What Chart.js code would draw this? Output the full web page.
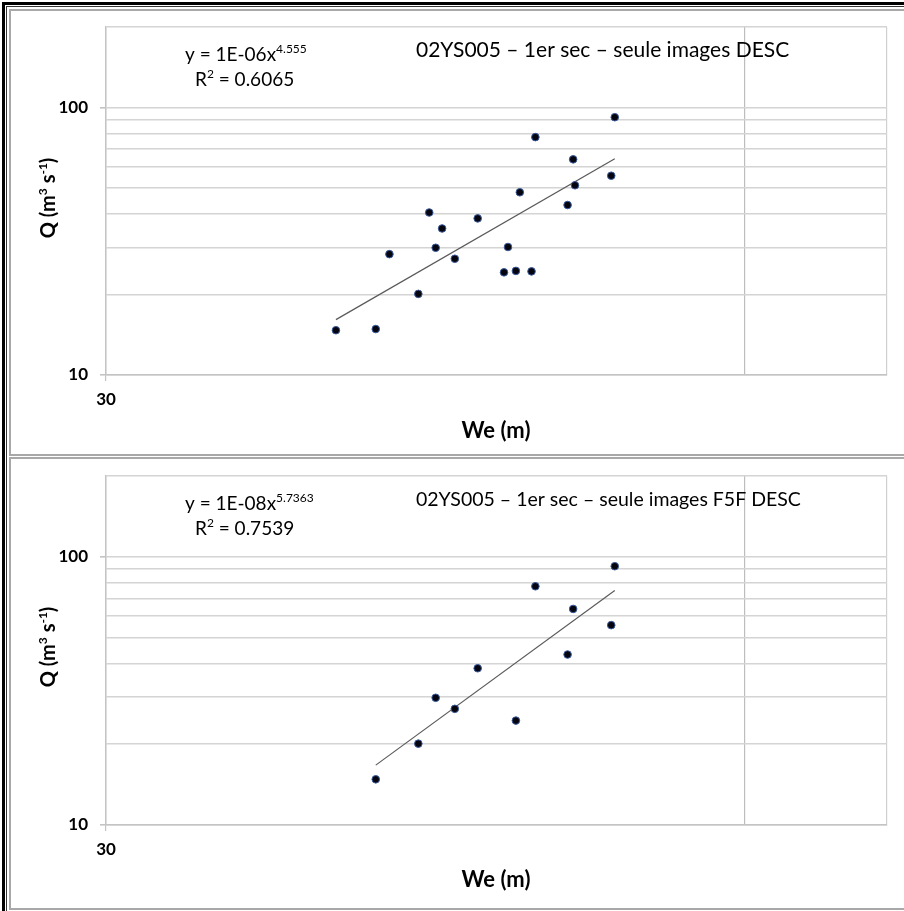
<!DOCTYPE html>
<html lang="fr">
<head>
  <meta charset="UTF-8">
  <title>02YS005 – 1er sec – Q / We</title>
  <script src="https://cdn.jsdelivr.net/npm/chart.js"></script>
  <style>
    body { margin: 0; background: #fff; font-family: Lato, sans-serif; }
    #page { position: relative; width: 904px; height: 911px; overflow: hidden; }
    .frame { position: absolute; box-sizing: border-box; }
    canvas { position: absolute; left: 0; }
  </style>
</head>
<body>
<div id="page">
  <div class="frame" style="left:2px;top:2px;width:960px;height:960px;border-left:3px solid #000;border-top:3px solid #000;"></div>
  <div class="frame" style="left:6px;top:6px;width:960px;height:960px;border-left:1px solid #333;border-top:1px solid #333;"></div>
  <div class="frame" style="left:9px;top:9px;width:960px;height:447px;border:2px solid #a8a8a8;"></div>
  <div class="frame" style="left:9px;top:457px;width:960px;height:453px;border:2px solid #a8a8a8;"></div>
  <canvas id="haut" width="904" height="457" style="top:0"></canvas>
  <canvas id="bas" width="904" height="462" style="top:449px"></canvas>
</div>

<script>
  // largeur effective We (m) et débit Q (m3/s) - toutes images DESC
  const hautWe = [38.5, 40.2, 40.8, 42.1, 42.6, 42.9, 43.2, 43.8, 44.9, 46.2, 46.4, 46.8, 47.0, 47.6, 47.8, 49.5, 49.8, 49.9, 51.9, 52.1];
  const hautQ  = [14.7, 14.85, 28.3, 20.1, 40.5, 29.9, 35.3, 27.2, 38.5, 24.2, 30.1, 24.5, 48.2, 24.4, 77.5, 43.2, 64.0, 51.2, 55.6, 92.0];

  // seulement images F5F DESC
  const basWe = [40.2, 42.1, 42.9, 43.8, 44.9, 46.8, 47.8, 49.5, 49.8, 51.9, 52.1];
  const basQ  = [14.8, 20.1, 29.8, 27.1, 38.4, 24.5, 77.6, 43.2, 63.9, 55.6, 92.2];

  const xTicks = [30, 60, 70];
  const xLabels = [30];
  const yTicks = [10, 20, 30, 40, 50, 60, 70, 80, 90, 100, 200];
  const yLabels = [10, 100];

  const hautEquation = ['y = 1E-06x', '4.555'];
  const hautR2 = '0.6065';
  const hautTitre = '02YS005 – 1er sec – seule images DESC';
  const basEquation = ['y = 1E-08x', '5.7363'];
  const basR2 = '0.7539';
  const basTitre = '02YS005 – 1er sec – seule images F5F DESC';

  // courbe de tendance puissance (moindres carrés en log-log, comme Excel)
  function tendance(xs, ys) {
    const lx = xs.map(Math.log), ly = ys.map(Math.log);
    const n = xs.length;
    const mx = lx.reduce((a, b) => a + b) / n, my = ly.reduce((a, b) => a + b) / n;
    let sxy = 0, sxx = 0;
    for (let i = 0; i < n; i++) { sxy += (lx[i] - mx) * (ly[i] - my); sxx += (lx[i] - mx) ** 2; }
    const b = sxy / sxx, a = Math.exp(my - b * mx);
    const x0 = Math.min(...xs), x1 = Math.max(...xs);
    return [{ x: x0, y: a * Math.pow(x0, b) }, { x: x1, y: a * Math.pow(x1, b) }];
  }

  function drawRuns(ctx, runs, x, y, size, weight, align) {
    const sup = Math.round(size * 0.62);
    let total = 0;
    runs.forEach(r => { ctx.font = weight + ' ' + (r[1] ? sup : size) + 'px Lato'; total += ctx.measureText(r[0]).width; });
    let cx = align === 'center' ? x - total / 2 : x;
    ctx.textAlign = 'left';
    ctx.textBaseline = 'alphabetic';
    runs.forEach(r => {
      ctx.font = weight + ' ' + (r[1] ? sup : size) + 'px Lato';
      ctx.fillText(r[0], cx, r[1] ? y - size * 0.4 : y);
      cx += ctx.measureText(r[0]).width;
    });
  }

  function textes(equation, r2, titre, tailleTitre) {
    return {
      id: 'textes',
      afterDraw(chart) {
        const ctx = chart.ctx;
        ctx.save();
        ctx.fillStyle = '#000';
        drawRuns(ctx, [[equation[0]], [equation[1], true]], 185, 61, 19, 'normal', 'left');
        drawRuns(ctx, [['R'], ['2', true], [' = ' + r2]], 195, 86, 19, 'normal', 'left');
        drawRuns(ctx, [[titre]], 416, 57, tailleTitre, 'normal', 'left');
        drawRuns(ctx, [['We (m)']], 496, 438, 22, 'bold', 'center');
        ctx.translate(55, 198);
        ctx.rotate(-Math.PI / 2);
        drawRuns(ctx, [['Q (m'], ['3', true], [' s'], ['-1', true], [')']], 0, 0, 20, 'bold', 'center');
        ctx.restore();
      }
    };
  }

  function graphique(id, we, q, equation, r2, titre, tailleTitre, hautAxeX) {
    const points = we.map((w, i) => ({ x: w, y: q[i] }));
    return new Chart(document.getElementById(id), {
      type: 'scatter',
      data: {
        datasets: [
          {
            data: points,
            backgroundColor: '#050510',
            borderColor: '#3b5b9b',
            borderWidth: 1,
            pointRadius: 3.8
          },
          {
            type: 'line',
            data: tendance(we, q),
            borderColor: '#5a5a5a',
            borderWidth: 1.2,
            pointRadius: 0,
            fill: false
          }
        ]
      },
      options: {
        responsive: false,
        animation: false,
        layout: { padding: { top: 27, right: 17, left: 0, bottom: 0 } },
        plugins: { legend: { display: false }, tooltip: { enabled: false } },
        scales: {
          x: {
            type: 'logarithmic',
            min: 30,
            max: 70,
            afterBuildTicks: s => { s.ticks = xTicks.map(v => ({ value: v })); },
            afterFit: s => { s.height = hautAxeX; },
            ticks: {
              autoSkip: false,
              maxRotation: 0,
              padding: 8,
              color: '#000',
              font: { family: 'Lato', size: 17, weight: 'bold' },
              callback: v => xLabels.includes(v) ? String(v) : ''
            },
            grid: {
              color: c => c.tick && c.tick.value === 60 ? '#bdbdbd' : '#d0d0d0',
              lineWidth: 1.2,
              tickLength: 6,
              tickColor: c => c.tick && c.tick.value === 30 ? '#c4c4c4' : 'rgba(0,0,0,0)'
            },
            border: { color: '#c4c4c4', width: 1.5 }
          },
          y: {
            type: 'logarithmic',
            min: 10,
            max: 200,
            afterBuildTicks: s => { s.ticks = yTicks.map(v => ({ value: v })); },
            afterFit: s => { s.width = 106; },
            ticks: {
              autoSkip: false,
              padding: 12,
              color: '#000',
              font: { family: 'Lato', size: 17, weight: 'bold' },
              callback: v => yLabels.includes(v) ? String(v) : ''
            },
            grid: {
              color: '#d4d4d4',
              lineWidth: 1.6,
              tickLength: 6,
              tickColor: c => c.tick && yLabels.includes(c.tick.value) ? '#c4c4c4' : 'rgba(0,0,0,0)'
            },
            border: { color: '#c4c4c4', width: 1.5 }
          }
        }
      },
      plugins: [textes(equation, r2, titre, tailleTitre)]
    });
  }

  graphique('haut', hautWe, hautQ, hautEquation, hautR2, hautTitre, 21, 82);
  graphique('bas', basWe, basQ, basEquation, basR2, basTitre, 19.5, 86);
</script>
</body>
</html>
